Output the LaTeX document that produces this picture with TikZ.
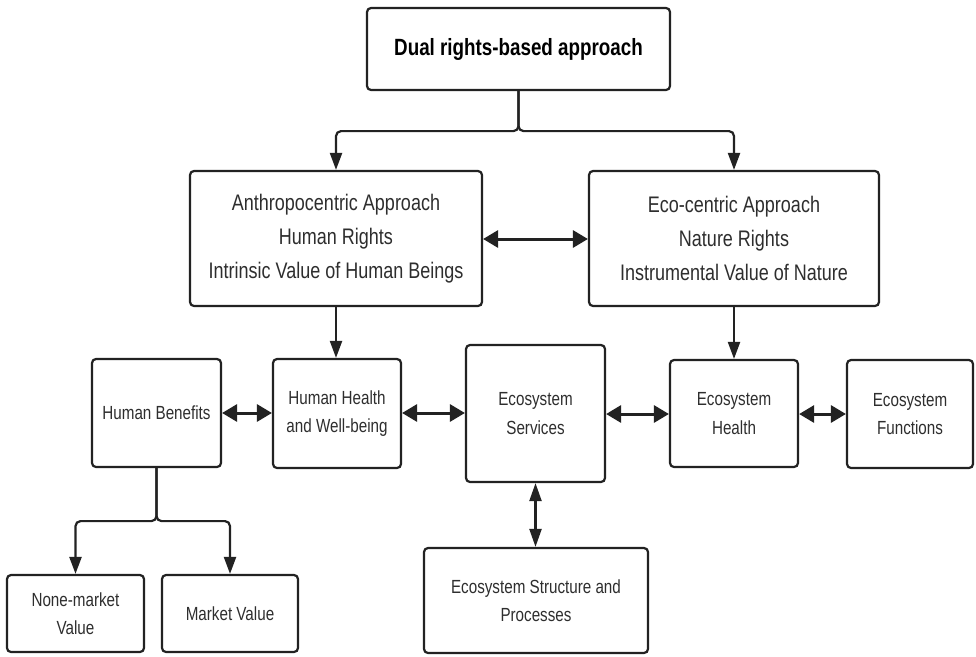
\documentclass[tikz,border=0pt]{standalone}
\usepackage{fontspec}
\setmainfont{Liberation Sans}[FakeStretch=0.8]
\usetikzlibrary{arrows.meta}
\definecolor{edgecol}{HTML}{222222}
\definecolor{txtcol}{HTML}{2e2e2e}
\tikzset{
  box/.style={draw=edgecol, line width=2.2pt, rounded corners=4pt, fill=white,
    align=center, inner sep=0pt, text=txtcol},
  bigtxt/.style={font=\fontsize{22.5}{34}\selectfont},
  smalltxt/.style={font=\fontsize{19}{28.5}\selectfont},
  conn/.style={draw=edgecol, line width=2.2pt, rounded corners=5pt,
    -{Triangle[length=17pt,width=12pt]}},
  dbl/.style={draw=edgecol, line width=3pt,
    {Triangle[length=15pt,width=17pt]}-{Triangle[length=15pt,width=17pt]}},
  vdbl/.style={draw=edgecol, line width=2.2pt,
    {Triangle[length=18pt,width=12pt]}-{Triangle[length=18pt,width=12pt]}}
}
\begin{document}
\begin{tikzpicture}[x=1pt,y=1pt]
\useasboundingbox[fill=white] (0,0) rectangle (976,-656);

\node[box, minimum width=303pt, minimum height=82pt, text=black,
  font=\fontsize{23.5}{28}\selectfont\bfseries] (top) at (518.5,-49) {Dual rights-based approach};

\node[box, bigtxt, minimum width=292pt, minimum height=135pt] (anthro) at (336,-238.5)
  {Anthropocentric Approach\\Human Rights\\Intrinsic Value of Human Beings};
\node[box, bigtxt, minimum width=290pt, minimum height=135pt] (eco) at (734,-238.5)
  {Eco-centric Approach\\Nature Rights\\Instrumental Value of Nature};

\node[box, smalltxt, minimum width=129pt, minimum height=108pt] (hb) at (156.5,-413) {Human Benefits};
\node[box, smalltxt, minimum width=128pt, minimum height=109pt] (hh) at (337,-413.5) {Human Health\\and Well-being};
\node[box, smalltxt, minimum width=139pt, minimum height=137pt] (es) at (535.5,-413.5) {Ecosystem\\Services};
\node[box, smalltxt, minimum width=128pt, minimum height=107pt] (eh) at (734,-413.5) {Ecosystem\\Health};
\node[box, smalltxt, minimum width=126pt, minimum height=108pt] (ef) at (910,-414) {Ecosystem\\Functions};

\node[box, smalltxt, minimum width=137pt, minimum height=77pt] (nm) at (75.5,-613.5) {None-market\\Value};
\node[box, smalltxt, minimum width=136pt, minimum height=77pt] (mv) at (230,-613.5) {Market Value};
\node[box, smalltxt, minimum width=224pt, minimum height=105pt] (esp) at (536,-600.5) {Ecosystem Structure and\\Processes};

% top split
\draw[conn] (top.south) -- ++(0,-40) -| (anthro.north);
\draw[conn] (top.south) -- ++(0,-40) -| (eco.north);
\draw[dbl] (anthro.east |- 0,-239) -- (eco.west |- 0,-239);

\draw[conn] (anthro.south) -- (anthro.south |- hh.north);
\draw[conn] (eco.south) -- (eco.south |- eh.north);

\draw[dbl] (hb.east |- 0,-413) -- (hh.west |- 0,-413);
\draw[dbl] (hh.east |- 0,-413) -- (es.west |- 0,-413);
\draw[dbl] (es.east |- 0,-414) -- (eh.west |- 0,-414);
\draw[dbl] (eh.east |- 0,-414) -- (ef.west |- 0,-414);

\draw[vdbl] (es.south) -- (es.south |- esp.north);

% human benefits split
\draw[conn] (hb.south) -- ++(0,-53) -| (nm.north);
\draw[conn] (hb.south) -- ++(0,-53) -| (mv.north);
\end{tikzpicture}
\end{document}
